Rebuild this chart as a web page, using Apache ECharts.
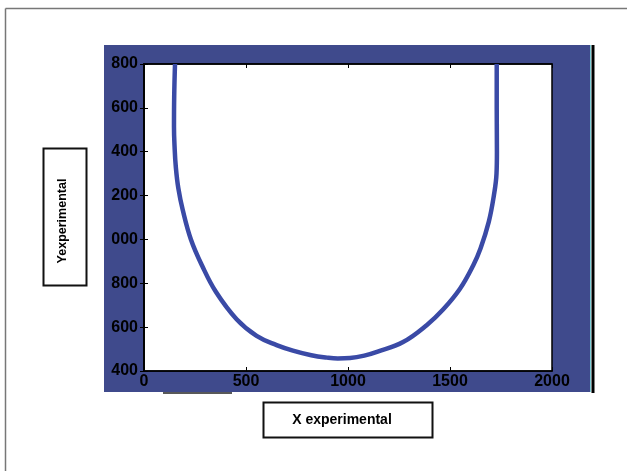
<!DOCTYPE html>
<html><head><meta charset="utf-8">
<script src="https://cdn.jsdelivr.net/npm/echarts@6/dist/echarts.min.js"></script>
<style>html,body{margin:0;padding:0;background:#fff}#c{width:627px;height:471px}</style>
</head><body><div id="c"></div>
<script>
// Data
const curveX = [152, 148, 147, 150, 156, 168, 190, 230, 285, 353, 454, 552, 650, 730, 820, 897, 950, 1010, 1080, 1142, 1270, 1387, 1466, 1549, 1613, 1650, 1690, 1715, 1728, 1730, 1729, 1729];
const curveY = [1800, 1650, 1513, 1420, 1330, 1235, 1134, 1000, 880, 760, 636, 560, 518, 493, 472, 461, 457, 459, 470, 487, 532, 610, 680, 775, 880, 960, 1080, 1200, 1300, 1400, 1600, 1800];
const xTickLabels = ['0', '500', '1000', '1500', '2000'];
const yTickLabels = ['400', '600', '800', '1000', '1200', '1400', '1600', '1800'];
const xTitle = 'X experimental';
const yTitle = 'Yexperimental';

const chart = echarts.init(document.getElementById('c'), null, {renderer: 'canvas'});
const pts = curveX.map((x, i) => [x, curveY[i]]);
const labelFont = {color: '#000', fontWeight: 'bold', fontSize: 16, fontFamily: 'Liberation Sans, Arial, sans-serif'};
const blue = '#3f4a8c';

chart.setOption({
  backgroundColor: '#fff',
  animation: false,
  graphic: [
    {type: 'line', shape: {x1: 5.5, y1: 8.5, x2: 627, y2: 8.5}, style: {stroke: '#777', lineWidth: 1.5}, z: -10},
    {type: 'line', shape: {x1: 5.5, y1: 8.5, x2: 5.5, y2: 471}, style: {stroke: '#777', lineWidth: 1.5}, z: -10},
    {type: 'rect', shape: {x: 104, y: 45, width: 486, height: 347}, style: {fill: blue}, z: -10},
    {type: 'line', shape: {x1: 590.5, y1: 45, x2: 590.5, y2: 392}, style: {stroke: '#7fd0d8', lineWidth: 1}, z: -9},
    {type: 'line', shape: {x1: 593, y1: 45, x2: 593, y2: 393}, style: {stroke: '#000', lineWidth: 3}, z: -9},
    {type: 'line', shape: {x1: 163, y1: 393, x2: 232, y2: 393}, style: {stroke: '#222', lineWidth: 1.5}, z: -9},
    {type: 'rect', shape: {x: 43.5, y: 148.5, width: 43, height: 137}, style: {fill: '#fff', stroke: '#111', lineWidth: 2}},
    {type: 'text', x: 63, y: 221, rotation: Math.PI / 2, style: {text: yTitle, fill: '#000', font: 'bold 12.5px "Liberation Sans", Arial, sans-serif', align: 'center', verticalAlign: 'middle'}},
    {type: 'rect', shape: {x: 263.5, y: 402.5, width: 169, height: 35}, style: {fill: '#fff', stroke: '#111', lineWidth: 2}},
    {type: 'text', x: 342, y: 420, style: {text: xTitle, fill: '#000', font: 'bold 14px "Liberation Sans", Arial, sans-serif', align: 'center', verticalAlign: 'middle'}}
  ],
  grid: {left: 144, top: 64, width: 408, height: 307, show: true, backgroundColor: '#fff', borderColor: '#000', borderWidth: 1.5},
  xAxis: [
    {type: 'value', min: 0, max: 2000, interval: 500, position: 'bottom',
     axisLine: {show: true, lineStyle: {color: '#000', width: 1.5}},
     axisTick: {show: true, inside: true, length: 4, lineStyle: {color: '#000'}},
     axisLabel: Object.assign({margin: 3, formatter: v => xTickLabels[xTickLabels.indexOf(String(v))] || ''}, labelFont),
     splitLine: {show: false}},
    {type: 'value', min: 0, max: 2000, interval: 500, position: 'top',
     axisLine: {show: true, lineStyle: {color: '#000', width: 1.5}},
     axisTick: {show: true, inside: true, length: 4, lineStyle: {color: '#000'}},
     axisLabel: {show: false}, splitLine: {show: false}}
  ],
  yAxis: [
    {type: 'value', min: 400, max: 1800, interval: 200, position: 'left',
     axisLine: {show: true, lineStyle: {color: '#000', width: 1.5}},
     axisTick: {show: true, inside: true, length: 4, lineStyle: {color: '#000'}},
     axisLabel: Object.assign({margin: 6, formatter: v => {
       const s = yTickLabels[yTickLabels.indexOf(String(v))] || '';
       return s.slice(-3); // leading digit is cut off by the panel edge in the original
     }}, labelFont),
     splitLine: {show: false}},
    {type: 'value', min: 400, max: 1800, interval: 200, position: 'right',
     axisLine: {show: true, lineStyle: {color: '#000', width: 1.5}},
     axisTick: {show: true, inside: true, length: 4, lineStyle: {color: '#000'}},
     axisLabel: {show: false}, splitLine: {show: false}}
  ],
  series: [{
    type: 'line', data: pts, smooth: 0.4, symbol: 'none',
    lineStyle: {color: '#3a4aa6', width: 4.5}
  }]
});
</script></body></html>
